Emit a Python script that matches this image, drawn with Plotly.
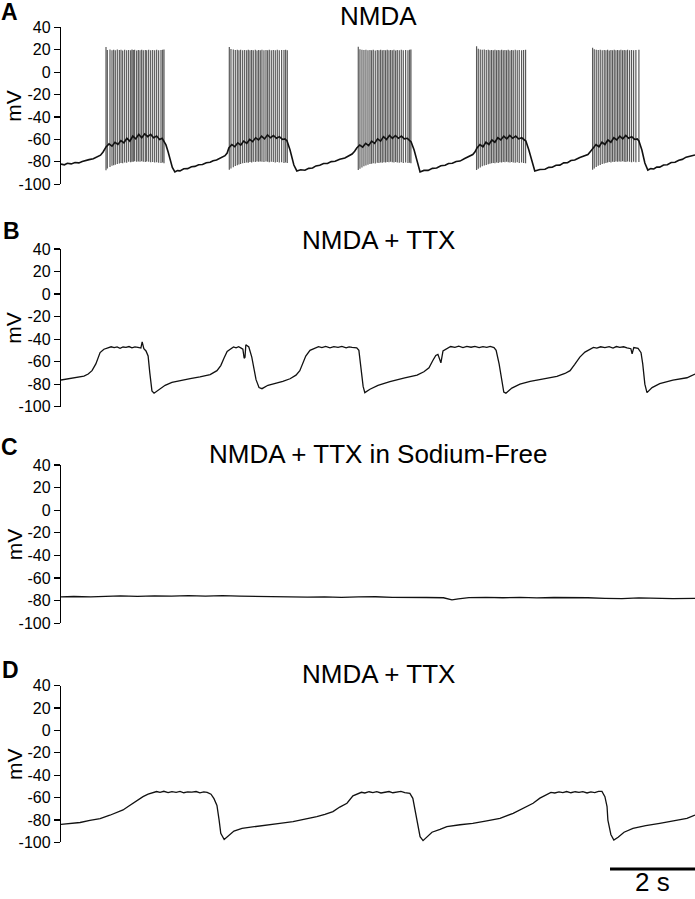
import plotly.graph_objects as go

# ---------------- DATA (time in s, membrane potential in mV) ----------------
panel_letters = ["A", "B", "C", "D"]
panel_titles = ["NMDA", "NMDA + TTX", "NMDA + TTX in Sodium-Free", "NMDA + TTX"]
y_ticks = [40, 20, 0, -20, -40, -60, -80, -100]
y_label = "mV"
scale_bar_label = "2 s"
scale_bar_seconds = 2

# Panel A: membrane trajectory between spikes
a_t = [0.00, 0.08, 0.15, 0.24, 0.33, 0.42, 0.50, 0.58, 0.66, 0.76, 0.85, 0.93, 0.99,
       1.06, 1.13, 1.20, 1.27, 1.34, 1.41, 1.48, 1.55, 1.62, 1.69, 1.76, 1.83, 1.90, 1.97, 2.04, 2.11, 2.18, 2.25, 2.32, 2.38, 2.42,
       2.47, 2.52, 2.57, 2.62, 2.68, 2.74, 2.80, 2.89, 2.98, 3.07, 3.15, 3.24, 3.33, 3.42, 3.51, 3.58, 3.66, 3.73, 3.79, 3.86, 3.91,
       3.95, 4.02, 4.09, 4.16, 4.23, 4.30, 4.37, 4.44, 4.51, 4.58, 4.65, 4.72, 4.79, 4.86, 4.93, 5.00, 5.07, 5.14, 5.21, 5.27, 5.32,
       5.39, 5.44, 5.48, 5.55, 5.64, 5.74, 5.83, 5.92, 6.00, 6.09, 6.18, 6.27, 6.36, 6.45, 6.56, 6.68, 6.76, 6.85, 6.91,
       6.96, 7.03, 7.10, 7.17, 7.24, 7.31, 7.38, 7.45, 7.52, 7.59, 7.66, 7.73, 7.80, 7.87, 7.94, 8.01, 8.08, 8.15, 8.20, 8.24,
       8.31, 8.36, 8.40, 8.45, 8.54, 8.64, 8.74, 8.84, 8.94, 9.04, 9.12, 9.21, 9.30, 9.39, 9.50, 9.62, 9.69, 9.74,
       9.79, 9.86, 9.93, 10.00, 10.07, 10.14, 10.21, 10.28, 10.35, 10.42, 10.49, 10.56, 10.63, 10.70, 10.77, 10.84, 10.90, 10.94,
       11.01, 11.06, 11.11, 11.15, 11.27, 11.39, 11.48, 11.56, 11.65, 11.74, 11.83, 11.92, 12.00, 12.09, 12.21, 12.33, 12.40, 12.45,
       12.52, 12.59, 12.66, 12.73, 12.80, 12.87, 12.94, 13.01, 13.08, 13.15, 13.22, 13.29, 13.36, 13.43, 13.50, 13.56, 13.60,
       13.67, 13.74, 13.81, 13.88, 13.95, 14.02, 14.09, 14.18, 14.27, 14.36, 14.45, 14.54, 14.62, 14.71, 14.80, 14.92]
a_v = [-82.0, -82.6, -81.3, -81.8, -80.6, -80.9, -79.6, -79.1, -78.0, -77.2, -75.8, -74.0, -71.2,
       -66.7, -64.0, -66.0, -62.5, -64.5, -61.0, -63.0, -59.0, -61.5, -57.0, -59.5, -55.5, -58.5, -55.0, -57.5, -55.5, -58.5, -57.0, -60.0, -59.0, -61.4,
       -64.9, -71.0, -78.3, -85.0, -89.0, -87.8, -88.0, -86.2, -86.0, -84.4, -84.0, -82.5, -82.3, -80.7, -80.4, -79.0, -78.4, -76.8, -75.7, -74.5, -72.1,
       -67.6, -64.5, -66.5, -63.0, -65.0, -61.5, -63.5, -60.0, -62.0, -58.5, -60.5, -57.0, -59.5, -56.0, -58.5, -56.5, -59.0, -57.5, -60.0, -59.5, -61.4,
       -69.4, -76.0, -82.8, -88.1, -87.0, -87.5, -85.8, -85.4, -83.6, -83.0, -81.5, -81.4, -79.8, -79.4, -77.6, -76.6, -75.2, -73.0, -70.5,
       -67.6, -65.0, -66.8, -63.5, -65.5, -61.5, -63.5, -59.5, -61.5, -57.5, -60.0, -56.5, -59.0, -56.5, -59.0, -57.0, -59.5, -59.0, -61.0, -62.3,
       -69.4, -76.0, -82.8, -89.0, -87.6, -87.6, -85.8, -85.5, -83.5, -83.0, -81.4, -81.3, -79.6, -79.3, -77.0, -75.0, -73.5, -71.2,
       -67.6, -64.5, -66.5, -62.5, -64.5, -60.5, -62.5, -58.5, -60.5, -57.0, -59.5, -56.5, -59.0, -57.0, -59.5, -58.5, -60.5, -61.4,
       -69.4, -76.0, -82.8, -88.1, -86.8, -86.6, -84.9, -84.8, -83.0, -82.9, -80.9, -80.8, -78.8, -78.4, -76.2, -74.8, -73.5, -71.2,
       -67.6, -64.5, -66.5, -62.5, -64.5, -60.5, -62.5, -58.5, -60.5, -57.0, -59.5, -56.5, -59.0, -57.5, -60.0, -59.5, -61.4,
       -69.4, -81.0, -87.3, -86.0, -86.3, -84.6, -84.7, -82.8, -82.6, -80.6, -80.4, -78.5, -77.8, -75.8, -75.0, -73.9]

# Panel A: action potentials (time, peak, trough) per burst
burst1_t = [1.059, 1.090, 1.153, 1.200, 1.239, 1.278, 1.325, 1.373, 1.412, 1.451, 1.498, 1.545, 1.592, 1.639, 1.671, 1.702, 1.733,
            1.780, 1.820, 1.859, 1.898, 1.937, 1.984, 2.016, 2.063, 2.110, 2.157, 2.204, 2.251, 2.298, 2.353, 2.392, 2.424]
burst1_peak = [22.5, 19.8, 20.2, 19.6, 20.0, 19.5, 20.1, 19.7, 19.9, 19.4, 20.0, 19.6, 19.8, 19.5, 20.1, 19.7, 19.9,
               19.4, 19.8, 19.6, 20.0, 19.5, 19.8, 19.6, 19.9, 19.5, 19.8, 19.6, 19.9, 19.5, 19.8, 19.9, 20.2]
burst1_trough = [-87.5, -86.0, -84.5, -83.5, -83.0, -82.5, -82.0, -81.5, -81.0, -81.2, -80.5, -80.8, -80.0, -80.3, -79.8, -80.0, -79.5,
                 -79.8, -79.6, -80.0, -79.5, -79.8, -80.2, -79.6, -80.0, -80.4, -80.1, -80.6, -80.3, -80.8, -81.0, -80.6, -81.2]

burst2_t = [3.961, 4.000, 4.055, 4.102, 4.149, 4.188, 4.227, 4.275, 4.322, 4.369, 4.408, 4.447, 4.486, 4.525, 4.573, 4.612,
            4.651, 4.690, 4.729, 4.776, 4.824, 4.863, 4.902, 4.949, 4.996, 5.043, 5.090, 5.137, 5.192, 5.247, 5.286, 5.325]
burst2_peak = [22.4, 20.6, 20.1, 19.8, 20.0, 19.6, 19.9, 19.5, 19.8, 19.6, 20.0, 19.5, 19.8, 19.6, 19.9, 19.4,
               19.8, 19.6, 19.9, 19.5, 19.8, 19.6, 19.9, 19.5, 19.7, 19.6, 19.9, 19.5, 19.8, 19.7, 19.9, 19.6]
burst2_trough = [-87.0, -86.0, -84.8, -83.6, -83.0, -82.3, -81.8, -81.3, -81.0, -80.6, -80.8, -80.2, -80.5, -79.9, -80.2, -79.7,
                 -80.0, -79.6, -79.9, -80.1, -79.7, -80.0, -80.3, -79.8, -80.2, -80.5, -80.1, -80.6, -80.4, -80.9, -80.6, -81.0]

burst3_t = [6.996, 7.035, 7.082, 7.129, 7.176, 7.224, 7.271, 7.310, 7.349, 7.396, 7.443, 7.482, 7.522, 7.561, 7.600,
            7.639, 7.678, 7.718, 7.757, 7.796, 7.835, 7.875, 7.914, 7.961, 8.008, 8.055, 8.110, 8.165, 8.204, 8.235]
burst3_peak = [22.7, 20.4, 20.0, 19.7, 19.9, 19.5, 19.8, 19.6, 19.9, 19.4, 19.8, 19.6, 19.9, 19.5, 19.8,
               19.6, 19.9, 19.5, 19.8, 19.6, 19.9, 19.4, 19.8, 19.6, 19.9, 19.5, 19.8, 19.6, 19.9, 20.1]
burst3_trough = [-87.2, -86.1, -85.0, -84.0, -83.2, -82.6, -82.0, -81.6, -81.2, -81.5, -80.8, -81.0, -80.5, -80.8, -80.3,
                 -80.6, -80.1, -80.4, -80.0, -80.3, -80.6, -80.2, -80.5, -80.8, -80.4, -80.9, -80.6, -81.0, -80.8, -81.2]

burst4_t = [9.780, 9.820, 9.867, 9.914, 9.961, 10.008, 10.055, 10.094, 10.133, 10.173, 10.212, 10.251, 10.290, 10.329,
            10.369, 10.408, 10.447, 10.486, 10.525, 10.565, 10.604, 10.643, 10.690, 10.737, 10.784, 10.839, 10.886, 10.933]
burst4_peak = [23.0, 20.8, 20.3, 19.9, 20.1, 19.7, 19.9, 19.5, 19.8, 19.6, 19.9, 19.5, 19.8, 19.6,
               19.9, 19.5, 19.8, 19.6, 19.9, 19.4, 19.8, 19.6, 19.9, 19.5, 19.8, 19.6, 19.8, 20.0]
burst4_trough = [-87.3, -86.2, -85.0, -84.0, -83.3, -82.7, -82.1, -81.6, -81.3, -80.9, -81.2, -80.6, -80.9, -80.3,
                 -80.6, -80.1, -80.4, -80.0, -80.3, -80.6, -80.2, -80.5, -80.8, -80.4, -80.9, -80.6, -81.0, -81.3]

burst5_t = [12.510, 12.549, 12.596, 12.643, 12.690, 12.737, 12.784, 12.824, 12.863, 12.902, 12.941, 12.980, 13.020,
            13.059, 13.098, 13.137, 13.176, 13.216, 13.255, 13.294, 13.333, 13.380, 13.427, 13.475, 13.529, 13.600]
burst5_peak = [21.8, 20.5, 20.0, 19.7, 19.9, 19.5, 19.8, 19.6, 19.9, 19.4, 19.8, 19.6, 19.9,
               19.5, 19.8, 19.6, 19.9, 19.5, 19.8, 19.6, 19.9, 19.5, 19.8, 19.6, 19.8, 19.9]
burst5_trough = [-87.0, -85.8, -84.6, -83.5, -82.7, -82.0, -81.4, -81.0, -80.6, -80.2, -80.5, -79.9, -80.2,
                 -79.7, -80.0, -79.6, -79.9, -79.5, -79.8, -80.1, -79.7, -80.0, -80.3, -79.9, -80.4, -80.2]

# Panel B: NMDA + TTX
b_t = [0.00, 0.12, 0.26, 0.40, 0.54, 0.64, 0.73, 0.82, 0.92, 1.01, 1.11, 1.18, 1.25, 1.32, 1.39, 1.46, 1.53, 1.60, 1.67,
       1.74, 1.81, 1.88, 1.91, 1.95, 2.00, 2.05, 2.09, 2.14, 2.19, 2.28, 2.45, 2.61, 2.80, 3.04, 3.27, 3.51, 3.67, 3.76,
       3.84, 3.91, 4.00, 4.06, 4.12, 4.18, 4.24, 4.28, 4.31, 4.33, 4.35, 4.42, 4.49, 4.54, 4.59, 4.66, 4.73, 4.87, 5.04,
       5.22, 5.39, 5.53, 5.62, 5.69, 5.76, 5.86, 5.98, 6.06, 6.14, 6.23, 6.33, 6.42, 6.52, 6.61, 6.71, 6.78, 6.85, 6.96,
       7.01, 7.06, 7.11, 7.15, 7.27, 7.46, 7.74, 8.09, 8.38, 8.54, 8.66, 8.75, 8.82, 8.87, 8.92, 8.94, 8.99, 9.08, 9.17,
       9.27, 9.36, 9.46, 9.55, 9.65, 9.74, 9.84, 9.93, 10.02, 10.10, 10.19, 10.24, 10.31, 10.38, 10.42, 10.47, 10.61,
       10.80, 11.04, 11.39, 11.67, 11.86, 11.98, 12.09, 12.21, 12.33, 12.45, 12.53, 12.61, 12.70, 12.80, 12.90, 12.99,
       13.07, 13.15, 13.24, 13.32, 13.41, 13.44, 13.48, 13.58, 13.65, 13.69, 13.74, 13.79, 13.91, 14.09, 14.40, 14.73, 14.92]
b_v = [-76.3, -75.6, -74.8, -73.8, -72.9, -71.0, -68.0, -62.0, -52.0, -49.0, -48.0, -46.8, -47.6, -46.9, -48.1, -47.0,
       -47.4, -46.6, -47.8, -46.9, -47.3, -47.9, -42.5, -48.5, -50.5, -55.0, -70.0, -86.0, -88.0, -85.5, -81.0, -78.5,
       -76.7, -75.0, -73.5, -71.5, -68.0, -63.5, -56.5, -51.0, -48.5, -46.9, -47.8, -46.8, -48.0, -49.0, -57.0, -56.0,
       -45.0, -47.0, -56.0, -66.0, -76.0, -83.0, -84.0, -81.0, -79.5, -77.5, -75.2, -72.0, -68.0, -62.0, -55.0, -50.0,
       -48.0, -46.7, -47.6, -46.4, -47.7, -46.6, -47.3, -46.5, -47.8, -46.9, -47.4, -47.8, -50.0, -65.0, -82.0, -87.5,
       -84.5, -81.0, -77.8, -74.5, -72.0, -69.0, -65.5, -59.0, -54.5, -53.5, -59.5, -61.0, -50.5, -48.5, -46.6, -47.4,
       -46.3, -47.6, -46.5, -47.2, -46.4, -47.6, -46.7, -47.3, -46.5, -47.6, -50.0, -62.0, -80.0, -87.0, -88.0, -83.5,
       -80.0, -77.5, -75.0, -73.0, -70.5, -68.0, -62.5, -56.0, -51.5, -49.0, -47.3, -48.0, -46.8, -47.6, -46.7, -47.9,
       -46.6, -47.3, -46.8, -47.8, -48.5, -53.0, -47.5, -48.2, -52.0, -62.0, -80.0, -87.5, -83.0, -79.5, -76.5, -74.3, -71.0]

# Panel C: NMDA + TTX in sodium-free solution
c_t = [0.0, 0.3, 0.7, 1.0, 1.4, 1.8, 2.2, 2.6, 3.0, 3.4, 3.8, 4.2, 4.6, 5.0, 5.4, 5.8, 6.2, 6.6, 7.0, 7.4, 7.8, 8.2,
       8.6, 9.0, 9.2, 9.35, 9.6, 10.0, 10.4, 10.8, 11.2, 11.6, 12.0, 12.4, 12.8, 13.2, 13.6, 14.0, 14.4, 14.92]
c_v = [-76.6, -76.3, -76.7, -76.2, -75.8, -76.1, -75.7, -76.0, -75.6, -75.9, -75.5, -75.9, -76.2, -76.6, -76.4, -76.9,
       -76.6, -77.0, -76.7, -76.5, -77.0, -76.8, -77.2, -77.4, -79.3, -78.4, -77.3, -77.0, -77.4, -77.1, -77.5, -77.2,
       -77.0, -77.4, -77.9, -78.2, -77.5, -77.9, -78.2, -78.0]

# Panel D: NMDA + TTX (after wash)
d_t = [0.00, 0.21, 0.45, 0.68, 0.92, 1.15, 1.32, 1.46, 1.58, 1.69, 1.81, 1.93, 2.05, 2.16, 2.25, 2.33, 2.42, 2.52, 2.61,
       2.71, 2.80, 2.89, 2.98, 3.08, 3.18, 3.27, 3.36, 3.44, 3.53, 3.60, 3.67, 3.72, 3.76, 3.84, 3.93, 4.07, 4.26, 4.56,
       4.85, 5.15, 5.46, 5.74, 6.02, 6.21, 6.40, 6.56, 6.73, 6.87, 6.99, 7.07, 7.15, 7.25, 7.34, 7.43, 7.53, 7.62, 7.72,
       7.81, 7.91, 8.00, 8.09, 8.21, 8.28, 8.33, 8.38, 8.45, 8.52, 8.61, 8.73, 8.92, 9.08, 9.39, 9.69, 10.02, 10.33, 10.64,
       10.87, 11.11, 11.27, 11.44, 11.53, 11.62, 11.72, 11.81, 11.90, 12.00, 12.10, 12.19, 12.28, 12.38, 12.47, 12.56,
       12.65, 12.73, 12.80, 12.85, 12.87, 12.94, 13.01, 13.11, 13.25, 13.46, 13.76, 14.09, 14.40, 14.73, 14.92]
d_v = [-83.9, -83.2, -82.3, -80.4, -78.8, -75.8, -73.5, -71.1, -68.0, -65.1, -62.0, -59.2, -57.0, -55.6, -54.6, -55.3,
       -54.4, -55.6, -54.7, -55.3, -54.5, -55.7, -54.9, -55.2, -54.6, -55.8, -55.0, -55.4, -57.0, -61.0, -67.0, -80.0,
       -92.0, -97.5, -94.5, -90.0, -87.5, -85.8, -84.5, -83.0, -81.6, -79.5, -77.1, -75.0, -72.6, -68.5, -65.1, -58.5,
       -56.5, -55.3, -55.9, -54.8, -55.5, -54.7, -55.9, -55.0, -54.6, -55.7, -55.1, -54.5, -55.6, -56.2, -60.7, -70.0,
       -80.1, -95.0, -98.5, -95.0, -91.0, -88.5, -86.0, -84.3, -83.0, -80.8, -78.6, -74.1, -70.0, -65.1, -60.5, -56.8,
       -55.4, -55.9, -54.9, -55.6, -54.6, -55.7, -54.8, -55.4, -54.7, -55.9, -55.0, -55.5, -54.4, -54.5, -59.2, -68.0,
       -80.1, -93.0, -98.0, -95.5, -91.0, -87.5, -85.0, -83.0, -81.0, -78.6, -75.6]

# ---------------- FIGURE ----------------
W, H = 695, 899
LEFT, RIGHT = 61, 695
T_END = 14.92
FONT = "Liberation Sans, Arial, Helvetica, sans-serif"

# vertical pixel extent of each panel (40 mV tick -> -100 mV tick)
panel_px = [(27.3, 184.3), (249.0, 406.7), (465.0, 623.3), (685.7, 842.3)]
letter_px = [(9, 12), (11, 231), (9, 447), (10, 670)]
title_py = [16, 240, 454, 674]


def px_x(px):
    return (px - LEFT) / (RIGHT - LEFT)


def px_y(py):
    return 1 - py / H


fig = go.Figure()

# Panel A spikes as vertical segments
spk_x, spk_y = [], []
for ts, pk, tr in [(burst1_t, burst1_peak, burst1_trough), (burst2_t, burst2_peak, burst2_trough),
                   (burst3_t, burst3_peak, burst3_trough), (burst4_t, burst4_peak, burst4_trough),
                   (burst5_t, burst5_peak, burst5_trough)]:
    for t, p, q in zip(ts, pk, tr):
        spk_x += [t, t, None]
        spk_y += [q, p, None]

fig.add_trace(go.Scatter(x=spk_x, y=spk_y, mode="lines", xaxis="x", yaxis="y",
                         line=dict(color="rgba(0,0,0,0.65)", width=1.2), hoverinfo="skip", showlegend=False))
fig.add_trace(go.Scatter(x=a_t, y=a_v, mode="lines", xaxis="x", yaxis="y",
                         line=dict(color="#111", width=1.6), showlegend=False))
fig.add_trace(go.Scatter(x=b_t, y=b_v, mode="lines", xaxis="x2", yaxis="y2",
                         line=dict(color="#111", width=1.3), showlegend=False))
fig.add_trace(go.Scatter(x=c_t, y=c_v, mode="lines", xaxis="x3", yaxis="y3",
                         line=dict(color="#111", width=1.3), showlegend=False))
fig.add_trace(go.Scatter(x=d_t, y=d_v, mode="lines", xaxis="x4", yaxis="y4",
                         line=dict(color="#111", width=1.3), showlegend=False))

layout = dict(
    width=W, height=H,
    margin=dict(l=LEFT, r=W - RIGHT, t=0, b=0, pad=0),
    paper_bgcolor="white", plot_bgcolor="white",
    font=dict(family=FONT, color="black"),
    showlegend=False,
)

annotations = []
for i in range(4):
    sfx = "" if i == 0 else str(i + 1)
    top, bot = panel_px[i]
    layout["xaxis" + sfx] = dict(domain=[0, 1], range=[0, T_END], visible=False,
                                 anchor="y" + sfx, fixedrange=True)
    layout["yaxis" + sfx] = dict(domain=[px_y(bot), px_y(top)], range=[-100, 40], anchor="x" + sfx,
                                 tickvals=y_ticks, ticktext=[str(v) for v in y_ticks],
                                 ticks="outside", ticklen=6, tickwidth=1.2, tickcolor="black",
                                 showline=True, linecolor="black", linewidth=1.2,
                                 showgrid=False, zeroline=False, automargin=False, fixedrange=True,
                                 tickfont=dict(family=FONT, size=16, color="black"))
    annotations.append(dict(text=y_label, xref="paper", yref="paper", x=px_x(14), y=px_y((top + bot) / 2),
                            textangle=-90, showarrow=False, xanchor="center", yanchor="middle",
                            font=dict(family=FONT, size=21, color="black")))
    lx, ly = letter_px[i]
    annotations.append(dict(text="<b>%s</b>" % panel_letters[i], xref="paper", yref="paper",
                            x=px_x(lx), y=px_y(ly), showarrow=False, xanchor="center", yanchor="middle",
                            font=dict(family=FONT, size=23, color="black")))
    annotations.append(dict(text=panel_titles[i], xref="paper", yref="paper",
                            x=0.5, y=px_y(title_py[i]), showarrow=False, xanchor="center", yanchor="middle",
                            font=dict(family=FONT, size=26, color="black")))

# scale bar (2 s) on panel D's time axis
bar_y = px_y(869)
layout["shapes"] = [dict(type="line", xref="x4", yref="paper", x0=T_END - scale_bar_seconds, x1=T_END,
                         y0=bar_y, y1=bar_y, line=dict(color="black", width=3))]
annotations.append(dict(text=scale_bar_label, xref="x4", yref="paper", x=T_END - scale_bar_seconds / 2,
                        y=0, showarrow=False, xanchor="center", yanchor="bottom",
                        font=dict(family=FONT, size=26, color="black")))
layout["annotations"] = annotations

fig.update_layout(**layout)
fig.write_html("out.html", config={"displayModeBar": False, "staticPlot": True},
               post_script="document.body.style.margin='0';document.body.style.padding='0';"
                           "document.documentElement.style.overflow='hidden';")
